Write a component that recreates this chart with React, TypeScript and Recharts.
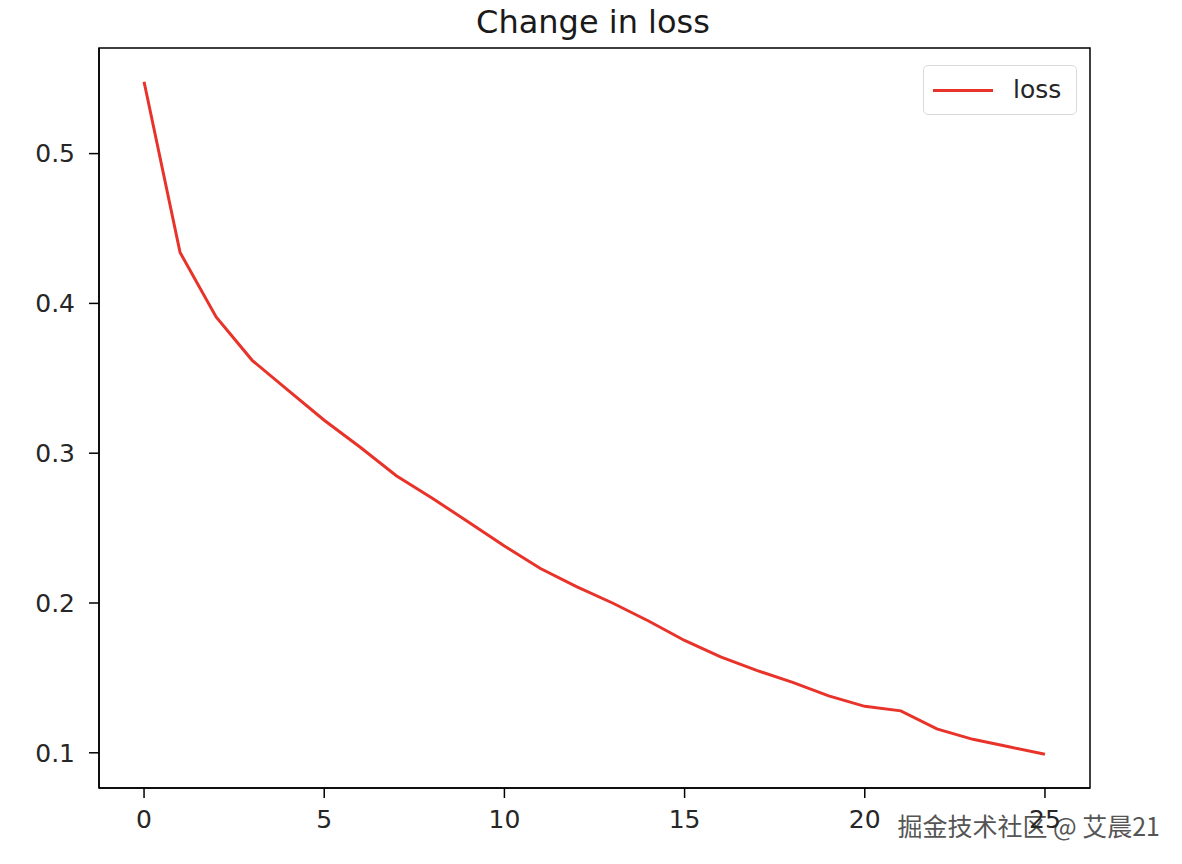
import React from 'react';
import { LineChart, Line, XAxis, YAxis, ReferenceArea } from 'recharts';

const epochs = [0, 1, 2, 3, 4, 5, 6, 7, 8, 9, 10, 11, 12, 13, 14, 15, 16, 17, 18, 19, 20, 21, 22, 23, 24, 25];
const loss = [
  0.548, 0.434, 0.391, 0.362, 0.342, 0.322, 0.304, 0.285, 0.27, 0.254, 0.238, 0.223, 0.211,
  0.2, 0.188, 0.175, 0.164, 0.155, 0.147, 0.138, 0.131, 0.128, 0.116, 0.109, 0.104, 0.099,
];
const xTicks = [0, 5, 10, 15, 20, 25];
const yTicks = [0.1, 0.2, 0.3, 0.4, 0.5];
const xDomain = [-1.25, 26.25];
const yDomain = [0.0765, 0.5705];

const data = epochs.map((e, i) => ({ epoch: e, loss: loss[i] }));

const FONT = '"DejaVu Sans", sans-serif';
const RED = '#e8332a';

// legend box drawn as a plain overlay so it doesn't eat plot space
function LossLegend() {
  return (
    <div
      style={{
        position: 'absolute',
        left: 923,
        top: 65,
        width: 154,
        height: 50,
        border: '1px solid #d9d9d9',
        borderRadius: 5,
        background: '#fff',
        display: 'flex',
        alignItems: 'center',
        boxSizing: 'border-box',
        fontFamily: FONT,
        fontSize: 25,
        color: '#262626',
      }}
    >
      <span style={{ display: 'inline-block', width: 60, height: 3, background: RED, marginLeft: 9 }} />
      <span style={{ marginLeft: 20, marginTop: -2 }}>loss</span>
    </div>
  );
}

export default function App() {
  return (
    <div style={{ position: 'absolute', left: 0, top: 0, width: 1182, height: 864, background: '#fff' }}>
      <LineChart width={1182} height={864} data={data} margin={{ top: 48, right: 92, bottom: 36, left: 39 }}>
        <text x={593} y={33} textAnchor="middle" fontFamily={FONT} fontSize={32} fill="#1a1a1a">
          Change in loss
        </text>
        <XAxis
          dataKey="epoch"
          type="number"
          domain={xDomain}
          ticks={xTicks}
          allowDataOverflow
          height={40}
          tickSize={10}
          stroke="#000"
          strokeWidth={1.5}
          tick={{ fill: '#262626', fontSize: 25, fontFamily: FONT }}
          tickMargin={12}
        />
        <YAxis
          type="number"
          domain={yDomain}
          ticks={yTicks}
          allowDataOverflow
          width={60}
          tickSize={10}
          stroke="#000"
          strokeWidth={1.5}
          tick={{ fill: '#262626', fontSize: 25, fontFamily: FONT }}
          tickMargin={14}
        />
        <ReferenceArea
          x1={xDomain[0]}
          x2={xDomain[1]}
          y1={yDomain[0]}
          y2={yDomain[1]}
          fill="none"
          stroke="#000"
          strokeWidth={1.5}
          ifOverflow="visible"
        />
        <Line
          type="linear"
          dataKey="loss"
          stroke={RED}
          strokeWidth={3}
          dot={false}
          isAnimationActive={false}
        />
        <text
          x={1160}
          y={836}
          textAnchor="end"
          fontFamily='"Noto Sans CJK SC", sans-serif'
          fontSize={25}
          fill="#555"
          stroke="#fff"
          strokeWidth={3}
          paintOrder="stroke"
        >
          掘金技术社区 @ 艾晨21
        </text>
      </LineChart>
      <LossLegend />
    </div>
  );
}
